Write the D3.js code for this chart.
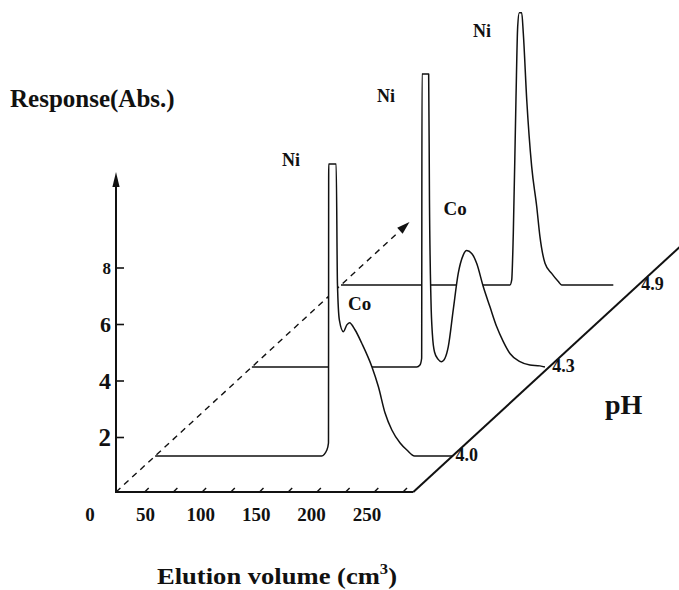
<!DOCTYPE html>
<html>
<head>
<meta charset="utf-8">
<script src="https://cdn.jsdelivr.net/npm/d3@7/dist/d3.min.js"></script>
<style>
  html, body { margin: 0; padding: 0; background: #fff; }
  svg { display: block; }
  text { font-family: "Liberation Serif", "Times New Roman", "DejaVu Serif", serif; font-weight: bold; fill: #111; }
</style>
</head>
<body>
<svg id="chart" width="679" height="590"></svg>
<script>
// ---------------- DATA ----------------
const phLabels = ["4.0", "4.3", "4.9"];

// Elution volume (cm3) and response (Abs.), one pair per pH
const vol40 = [0, 145, 149.6, 151.0, 151.2, 157.7, 158.8, 160.5, 164.0, 167.0, 169.3, 174.2, 180.0, 188.8, 194.5, 200.3, 206.2, 213.4, 219.3, 226, 259];
const res40 = [0, 0, 0.21, 0.46, 10.34, 10.34, 6.12, 4.81, 4.40, 4.64, 4.72, 4.46, 3.99, 3.16, 2.45, 1.52, 0.92, 0.46, 0.21, 0, 0];

const vol43 = [0, 143.6, 146.4, 147.9, 148.2, 154.0, 154.7, 156.0, 157.3, 159.1, 162.1, 165.3, 168.2, 171.1, 175.4, 179.8, 184.1, 187.1, 191.5, 195.8, 201.6, 207.4, 213.2, 219.0, 224.8, 233.5, 242.2, 250.9, 255.3];
const res43 = [0, 0, 0.07, 0.31, 10.37, 10.37, 5.91, 2.37, 1.13, 0.53, 0.28, 0.19, 0.31, 0.72, 2.02, 3.32, 3.96, 4.12, 4.02, 3.67, 2.84, 2.13, 1.43, 0.90, 0.48, 0.19, 0.07, 0.04, 0];

const vol49 = [0, 147.2, 148.7, 150.1, 152.4, 153.9, 155.3, 157.4, 158.8, 161.8, 166.1, 170.5, 173.3, 177.7, 183.5, 189.3, 192.2, 237.2];
const res49 = [0, 0, 0.18, 1.84, 6.55, 9.14, 9.64, 9.64, 8.91, 6.55, 4.19, 2.77, 1.71, 0.77, 0.41, 0.12, 0, 0];

// axis ticks
const volumeTickLabels = [0, 50, 100, 150, 200, 250];
const volumeMinorTicks = [25, 50, 75, 100, 125, 150, 175, 200, 225, 250];
const responseTicks = [2, 4, 6, 8];

// peak annotations (name, pH, volume, response)
const peakNames = ["Ni", "Co", "Ni", "Co", "Ni"];
const peakPh    = ["4.0", "4.0", "4.3", "4.3", "4.9"];
const peakVol   = [110.6, 168.1, 109, 166.9, 115];
const peakRes   = [10.27, 5.17, 9.38, 5.38, 8.78];

// ---------------- SCALES ----------------
const svg = d3.select("#chart");
const floorY = 492;
const slope = 0.92;                       // depth direction of the oblique projection
const vMaxFloor = 259;

const xScale = d3.scaleLinear().domain([0, 250]).range([116, 403]);
const labelScale = d3.scaleLinear().domain([0, 250]).range([90, 367]);
const zScale = d3.scaleLinear().domain([0, 8]).range([494, 268]);
const depth = d3.scaleOrdinal().domain(phLabels).range([36, 125, 207]);

const zPix = z => zScale(0) - zScale(z);
const px = (v, dy) => xScale(v) + dy / slope;
const py = (z, dy) => floorY - dy - zPix(z);

svg.append("rect").attr("width", 679).attr("height", 590).attr("fill", "#fff");

// ---------------- FLOOR ----------------
const depthMax = 270;
// dashed pH-direction edge with arrow
svg.append("line")
  .attr("x1", px(0, 0)).attr("y1", floorY)
  .attr("x2", px(0, depthMax - 10)).attr("y2", floorY - (depthMax - 10))
  .attr("stroke", "#111").attr("stroke-width", 1.4).attr("stroke-dasharray", "6,5");
{
  const tipX = px(0, depthMax), tipY = floorY - depthMax;
  const ang = Math.atan2(-1, 1 / slope);
  const L = 13, W = 4;
  const bx = tipX - L * Math.cos(ang), by = tipY - L * Math.sin(ang);
  const nx = -Math.sin(ang), ny = Math.cos(ang);
  svg.append("path")
    .attr("d", `M${tipX},${tipY}L${bx + nx * W},${by + ny * W}L${bx - nx * W},${by - ny * W}Z`)
    .attr("fill", "#111");
}
// pH axis (solid)
svg.append("line")
  .attr("x1", px(vMaxFloor, 0)).attr("y1", floorY)
  .attr("x2", px(vMaxFloor, 300)).attr("y2", floorY - 300)
  .attr("stroke", "#111").attr("stroke-width", 2);

// front edge (volume axis)
svg.append("line")
  .attr("x1", xScale(0) - 1).attr("y1", floorY)
  .attr("x2", px(vMaxFloor, 0)).attr("y2", floorY)
  .attr("stroke", "#111").attr("stroke-width", 2.2);
svg.selectAll(".vtick").data(volumeMinorTicks).enter().append("line")
  .attr("x1", d => xScale(d)).attr("y1", floorY)
  .attr("x2", d => xScale(d) + 4).attr("y2", floorY - 4)
  .attr("stroke", "#111").attr("stroke-width", 1.4);
svg.selectAll(".vlab").data(volumeTickLabels).enter().append("text")
  .attr("x", d => labelScale(d)).attr("y", 521)
  .attr("text-anchor", "middle").attr("font-size", 19)
  .text(d => d);

// response axis
svg.append("line")
  .attr("x1", xScale(0)).attr("y1", floorY + 1)
  .attr("x2", xScale(0)).attr("y2", 184)
  .attr("stroke", "#111").attr("stroke-width", 2);
svg.append("path")
  .attr("d", `M${xScale(0)},172L${xScale(0) - 3.6},187L${xScale(0) + 3.6},187Z`)
  .attr("fill", "#111");
svg.selectAll(".ztick").data(responseTicks).enter().append("line")
  .attr("x1", xScale(0)).attr("x2", xScale(0) + 8)
  .attr("y1", d => zScale(d)).attr("y2", d => zScale(d))
  .attr("stroke", "#111").attr("stroke-width", 1.6);
const tickFont = d => ({ 2: 25, 4: 24, 6: 22, 8: 17 })[d];
svg.selectAll(".zlab").data(responseTicks).enter().append("text")
  .attr("x", d => xScale(0) - 5).attr("y", d => zScale(d) + tickFont(d) * 0.33)
  .attr("text-anchor", "end").attr("font-size", d => tickFont(d))
  .text(d => d);

// ---------------- TRACES (back to front) ----------------
const series = [
  { ph: "4.9", vol: vol49, res: res49 },
  { ph: "4.3", vol: vol43, res: res43 },
  { ph: "4.0", vol: vol40, res: res40 }
];
series.forEach(s => {
  const dy = depth(s.ph);
  const pts = s.vol.map((v, i) => ({ v, r: s.res[i] }));
  const area = d3.area()
    .x(d => px(d.v, dy)).y0(py(0, dy)).y1(d => py(d.r, dy))
    .curve(d3.curveMonotoneX);
  const line = d3.line()
    .x(d => px(d.v, dy)).y(d => py(d.r, dy))
    .curve(d3.curveMonotoneX);
  svg.append("path").attr("d", area(pts)).attr("fill", "#fff").attr("stroke", "none");
  svg.append("path").attr("d", line(pts)).attr("fill", "none")
    .attr("stroke", "#111").attr("stroke-width", 1.5).attr("stroke-linejoin", "round");
  // pH label at the pH axis
  svg.append("text")
    .attr("x", px(vMaxFloor, dy) + 3).attr("y", py(0, dy) + 5)
    .attr("font-size", 18)
    .text(s.ph);
});

// peak labels
peakNames.forEach((n, i) => {
  const dy = depth(peakPh[i]);
  svg.append("text")
    .attr("x", px(peakVol[i], dy)).attr("y", py(peakRes[i], dy))
    .attr("font-size", n === "Ni" ? 18 : 19)
    .text(n);
});

// ---------------- TITLES ----------------
svg.append("text").attr("x", 10).attr("y", 107).attr("font-size", 25)
  .text("Response(Abs.)");
svg.append("text").attr("x", 605).attr("y", 414).attr("font-size", 28)
  .text("pH");
const xt = svg.append("text").attr("x", 157).attr("y", 584).attr("font-size", 24)
  .attr("textLength", 240).attr("lengthAdjust", "spacingAndGlyphs");
xt.append("tspan").text("Elution volume (cm");
xt.append("tspan").attr("font-size", 15).attr("dy", -10).text("3");
xt.append("tspan").attr("dy", 10).text(")");
</script>
</body>
</html>
